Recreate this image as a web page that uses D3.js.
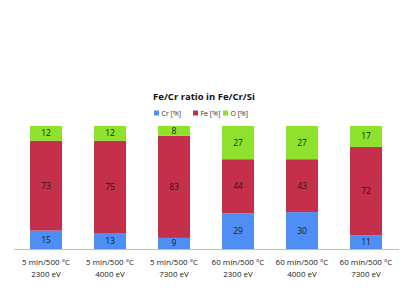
<!DOCTYPE html>
<html>
<head>
<meta charset="utf-8">
<script src="https://cdn.jsdelivr.net/npm/d3@7"></script>
<style>
  body { margin: 0; background: #fff; }
  text { font-family: "Open Sans", "DejaVu Sans", sans-serif; }
</style>
</head>
<body>
<div id="chart"></div>
<script>
// datos del grafico
const categorias = [
  ["5 min/500 °C", "2300 eV"],
  ["5 min/500 °C", "4000 eV"],
  ["5 min/500 °C", "7300 eV"],
  ["60 min/500 °C", "2300 eV"],
  ["60 min/500 °C", "4000 eV"],
  ["60 min/500 °C", "7300 eV"]
];
const series = ["Cr [%]", "Fe [%]", "O [%]"];
const cr = [15, 13, 9, 29, 30, 11];
const fe = [73, 75, 83, 44, 43, 72];
const o = [12, 12, 8, 27, 27, 17];
const colores = ["#4f8ff5", "#c4304b", "#8ee22b"];

const width = 415, height = 288;
const svg = d3.select("#chart")
  .append("svg")
  .attr("width", width)
  .attr("height", height);

const x = d3.scaleBand()
  .domain(d3.range(categorias.length))
  .range([14, 398])
  .paddingInner(0.5)
  .paddingOuter(0.25);

const y = d3.scaleLinear()
  .domain([0, 100])
  .range([249, 126]);

// se arma la tabla para el stack
const tabla = categorias.map((c, i) => ({ i: i, "Cr [%]": cr[i], "Fe [%]": fe[i], "O [%]": o[i] }));
const apilado = d3.stack().keys(series)(tabla);

const capas = svg.append("g")
  .selectAll("g")
  .data(apilado)
  .join("g")
  .attr("fill", (_, k) => colores[k]);

capas.selectAll("rect")
  .data(d => d)
  .join("rect")
  .attr("x", d => x(d.data.i))
  .attr("width", x.bandwidth())
  .attr("y", d => y(d[1]))
  .attr("height", d => y(d[0]) - y(d[1]));

capas.selectAll("text")
  .data(d => d)
  .join("text")
  .attr("x", d => x(d.data.i) + x.bandwidth() / 2)
  .attr("y", d => (y(d[0]) + y(d[1])) / 2 + 3)
  .attr("text-anchor", "middle")
  .attr("font-size", 8.5)
  .attr("fill", "#1a1a1a")
  .text(d => d[1] - d[0]);

// eje x
svg.append("line")
  .attr("x1", 14).attr("x2", 399)
  .attr("y1", 249.5).attr("y2", 249.5)
  .attr("stroke", "#bfbfbf")
  .attr("stroke-width", 1);

const etiquetas = svg.append("g")
  .selectAll("text")
  .data(categorias)
  .join("text")
  .attr("text-anchor", "middle")
  .attr("font-size", 8)
  .attr("fill", "#222");

etiquetas.append("tspan")
  .attr("x", (_, i) => x(i) + x.bandwidth() / 2)
  .attr("y", 265)
  .text(d => d[0]);
etiquetas.append("tspan")
  .attr("x", (_, i) => x(i) + x.bandwidth() / 2)
  .attr("y", 277)
  .text(d => d[1]);

// titulo
svg.append("text")
  .attr("x", 204)
  .attr("y", 100)
  .attr("text-anchor", "middle")
  .attr("font-size", 9.5)
  .attr("font-weight", "bold")
  .attr("fill", "#111")
  .text("Fe/Cr ratio in Fe/Cr/Si");

// leyenda
const legX = [154, 193, 223];
const leyenda = svg.append("g")
  .selectAll("g")
  .data(series)
  .join("g")
  .attr("transform", (_, k) => `translate(${legX[k]},110.5)`);
leyenda.append("rect")
  .attr("width", 5).attr("height", 5)
  .attr("fill", (_, k) => colores[k]);
leyenda.append("text")
  .attr("x", 7.5).attr("y", 5.5)
  .attr("font-size", 7)
  .attr("fill", "#333")
  .text(d => d);
</script>
</body>
</html>
